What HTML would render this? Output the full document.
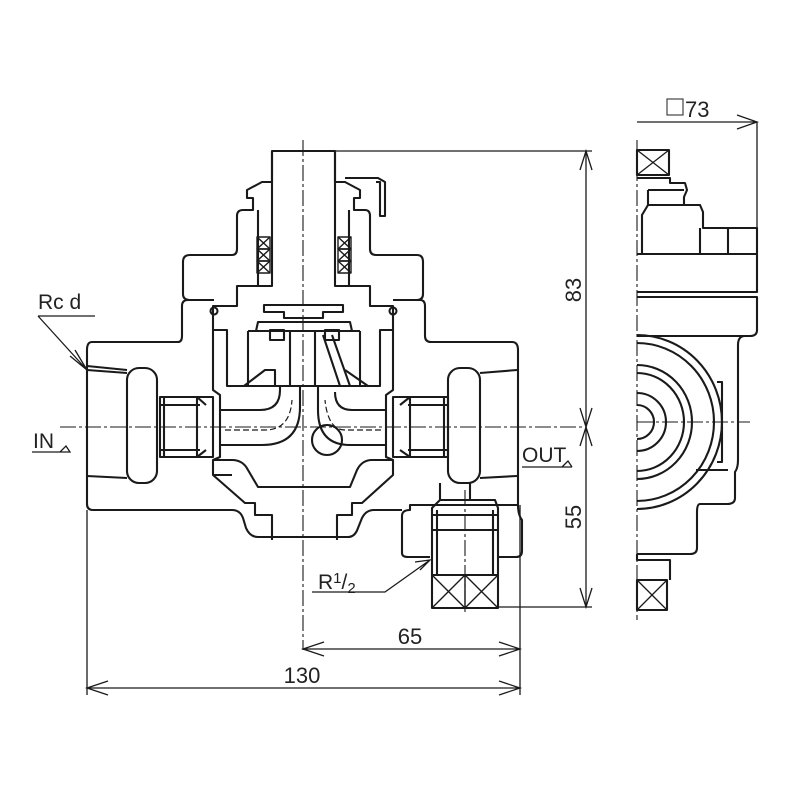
<!DOCTYPE html>
<html><head><meta charset="utf-8"><style>
html,body{margin:0;padding:0;background:#fff;}
svg{display:block}
text{font-family:"Liberation Sans",sans-serif;fill:#222}
</style></head><body>
<svg width="800" height="800" viewBox="0 0 800 800" xmlns="http://www.w3.org/2000/svg">
<g fill="none" stroke="#1a1a1a" stroke-width="2.1" stroke-linejoin="round">
<path d="M92,342 L178,342 Q182,342 182,336 L182,306 Q182,300 188,300 L214,300 M393,300 L420,300 Q425,300 425,306 L425,336 Q425,342 431,342 L512,342 Q518,342 518,350 L518,505 L410,505 L410,510 Q402,510 402,516 L402,553 Q402,557 408,557 L430,557 M497,557 L516,557 Q522,557 522,551 L522,520 Q518,515 518,505"/>
<path d="M92,342 Q87,342 87,350 L87,504 Q87,510 93,510 L232,510 Q240,510 243,518 L246,528 Q250,537 258,537 L348,537 Q355,537 358,528 L362,518 Q366,510 374,510 L402,510"/>
<path d="M214,300 L190,300 Q183,300 183,294 L183,262 Q183,255 190,255 L232,255 Q237,255 237,249 L237,216 Q237,210 243,210 L253,210 L253,198 L247,198 L247,190 L262,182 L272,182 L272,151 L335,151 L335,182 L345,182 L360,190 L360,198 L354,198 L354,210 L365,210 Q370,210 370,216 L370,249 Q370,255 376,255 L417,255 Q423,255 423,262 L423,294 Q423,300 417,300 L393,300"/>
<path d="M376,182 L380,182 L380,216 L385,216 L385,182 L378,178 L345,178"/>
<path d="M272,151 L272,286 L237,286 L237,306 L213,306 L213,330 L227,330 L227,386 L380,386 L380,330 L393,330 L393,306 L370,306 L370,286 L335,286 L335,151"/>
<path d="M264,305 L264,312 L284,312 L284,318 L323,318 L323,312 L343,312 L343,305 Z"/>
<path d="M256,331 L258,322 L350,322 L352,331 Z"/>
<path d="M248,331 L360,331 M248,331 L248,386 M360,331 L360,386"/>
<rect x="270" y="330" width="14" height="10"/><rect x="325" y="330" width="14" height="10"/>
<path d="M290,331 L290,386 M315,331 L315,386"/>
<path d="M323,335 L340,386 M332,335 L350,386" />
<path d="M244,386 L265,370 L275,370 L275,386 M368,386 L345,370"/>
<path d="M258,210 L258,286 M349,210 L349,286"/>
<g stroke-width="1.4">
<rect x="257" y="237" width="13" height="12"/><rect x="257" y="249" width="13" height="12"/><rect x="257" y="261" width="13" height="12"/>
<path d="M257,237 L270,249 M270,237 L257,249 M257,249 L270,261 M270,249 L257,261 M257,261 L270,273 M270,261 L257,273"/>
<rect x="338" y="237" width="13" height="12"/><rect x="338" y="249" width="13" height="12"/><rect x="338" y="261" width="13" height="12"/>
<path d="M338,237 L351,249 M351,237 L338,249 M338,249 L351,261 M351,249 L338,261 M338,261 L351,273 M351,261 L338,273"/>
</g>
<circle cx="214" cy="311" r="3.5"/><circle cx="393" cy="311" r="3.5"/>
<path d="M213,330 L213,390 L220,395 L220,457 L213,460 L213,475 L245,503 L255,503 L255,515 L272,515 L272,540 M213,475 L232,475"/>
<path d="M393,330 L393,390 L386,395 L386,457 L393,460 L393,475 L362,503 L352,503 L352,515 L337,515 L337,540"/>
<path d="M213,460 L232,460 Q243,460 248,470 L258,487 L300,487 M393,460 L372,460 Q362,460 357,470 L350,487 L300,487"/>
<path d="M220,410 L260,410 Q280,410 280,390 L280,386 M220,445 L262,445 Q300,445 300,407 L300,386"/>
<path d="M386,410 L352,410 Q335,410 335,392 M386,445 L350,445 Q318,445 318,410 L318,386"/>
<path d="M225,430 L265,430 Q290,430 292,400" stroke-dasharray="6,3" stroke-width="1.2"/>
<path d="M381,430 L345,430 Q328,430 325,400" stroke-dasharray="6,3" stroke-width="1.2"/>
<circle cx="327" cy="440" r="15"/>
<path d="M160,397 L213,397 L213,457 L160,457 Z M164,397 L164,457 M160,405 L200,405 M160,450 L200,450 M197,397 L197,457 M197,397 L206,405 M197,457 L206,450"/>
<path d="M448,397 L393,397 L393,457 L448,457 Z M444,397 L444,457 M448,405 L408,405 M448,450 L408,450 M410,397 L410,457 M410,397 L400,405 M410,457 L400,450"/>
<rect x="127" y="368" width="30" height="115" rx="12"/>
<rect x="448" y="368" width="32" height="115" rx="12"/>
<path d="M87,370 L127,373 M87,476 L127,478 M480,373 L517,370 M480,478 L517,476 M87,366 L127,370"/>
<path d="M440,483 L440,500 L470,500 L470,483"/>
<path d="M440,500 L432,508 L432,575 M470,500 L495,500 L498,508 L498,575 M432,515 L498,515 M432,530 L498,530 M437,510 L437,575 M493,510 L493,575"/>
<rect x="432" y="575" width="66" height="33"/>
<path d="M465,575 L465,608 M432,575 L465,608 M465,575 L432,608 M465,575 L498,608 M498,575 L465,608" stroke-width="1.4"/>
</g>
<g stroke="#1a1a1a" stroke-width="1.1" stroke-dasharray="16,3,3,3" fill="none">
<path d="M303,140 L303,650"/>
<path d="M60,427 L585,427"/>
<path d="M465,490 L465,615"/>
<path d="M637,140 L637,620"/>
<path d="M637,422 L750,422"/>
</g>
<g stroke="#1a1a1a" stroke-width="1.3" fill="none">
<path d="M335,151 L592,151 M498,607 L592,607 M586,151 L586,607"/>
<path d="M580,170 L586,151 L592,170 M580,408 L586,427 L592,408 M580,446 L586,427 L592,446 M580,588 L586,607 L592,588"/>
<path d="M87,510 L87,695 M520,505 L520,695"/>
<path d="M303,649 L520,649 M324,642 L303,649 L324,656 M499,642 L520,649 L499,656"/>
<path d="M87,688 L520,688 M108,681 L87,688 L108,695 M499,681 L520,688 L499,695"/>
<path d="M637,122 L757,122 M737,115 L757,122 L737,129 M757,122 L757,230"/>
<path d="M38,316 L95,316 M38,316 L87,370 M70,356 L87,370 L75,350"/>
<path d="M32,452 L60,452 L66,446 L70,452 L60,452"/>
<path d="M522,467 L572,467 M562,467 L568,461 L572,467"/>
<path d="M312,592 L385,592 L430,560 M415,562 L430,560 L420,570"/>
</g>
<text x="38" y="309" font-size="21">Rc d</text>
<text x="33" y="448" font-size="21">IN</text>
<text x="522" y="462" font-size="21">OUT</text>
<text x="318" y="589" font-size="21">R<tspan font-size="15" dy="-6">1</tspan><tspan font-size="21" dy="6">/</tspan><tspan font-size="15" dy="4">2</tspan></text>
<text x="410" y="644" font-size="22" text-anchor="middle">65</text>
<text x="302" y="683" font-size="22" text-anchor="middle">130</text>
<text transform="translate(581,290) rotate(-90)" font-size="22" text-anchor="middle">83</text>
<text transform="translate(581,517) rotate(-90)" font-size="22" text-anchor="middle">55</text>
<rect x="667" y="99" width="16" height="16" fill="none" stroke="#333" stroke-width="1.1"/>
<text x="685" y="117" font-size="22">73</text>
<g fill="none" stroke="#1a1a1a" stroke-width="2.1" stroke-linejoin="round">
<rect x="637" y="150" width="32" height="25"/>
<path d="M637,150 L669,175 M669,150 L637,175" stroke-width="1.3"/>
<path d="M637,178 L670,178 L670,183 L685,183 L687,190 L684,197 L684,205 L700,205 L703,212 L703,228 L757,228 L757,254"/>
<path d="M648,190 L684,190 M648,190 L648,205 L642,215 L642,254 M648,205 L684,205"/>
<path d="M700,228 L700,254 M728,228 L728,254"/>
<path d="M637,254 L757,254 L757,292 L637,292 M637,297 L757,297 L757,330 Q757,336 750,336 L745,336 Q738,336 738,345 L738,460 Q738,468 735,472 L735,498 Q735,504 727,504 L700,504 Q697,504 697,512 L697,548 Q697,554 690,554 L637,554"/>
<path d="M637,336 L745,336"/>
<path d="M637,335 A85,87 0 0 1 637,509"/>
<path d="M637,343 A77,79 0 0 1 637,501"/>
<path d="M637,365 A55,57 0 0 1 637,479"/>
<path d="M637,373 A47,49 0 0 1 637,471"/>
<path d="M637,393 A29,29 0 0 1 637,451"/>
<path d="M637,405 A17,17 0 0 1 637,439"/>
<path d="M717,382 L722,382 L722,462 L717,462"/>
<path d="M696,470 L728,470"/>
<path d="M637,554 L637,560 L670,560 L670,580 M637,560 L670,560"/>
<rect x="637" y="580" width="30" height="30"/>
<path d="M637,580 L667,610 M667,580 L637,610" stroke-width="1.3"/>
</g>
</svg>
</body></html>
